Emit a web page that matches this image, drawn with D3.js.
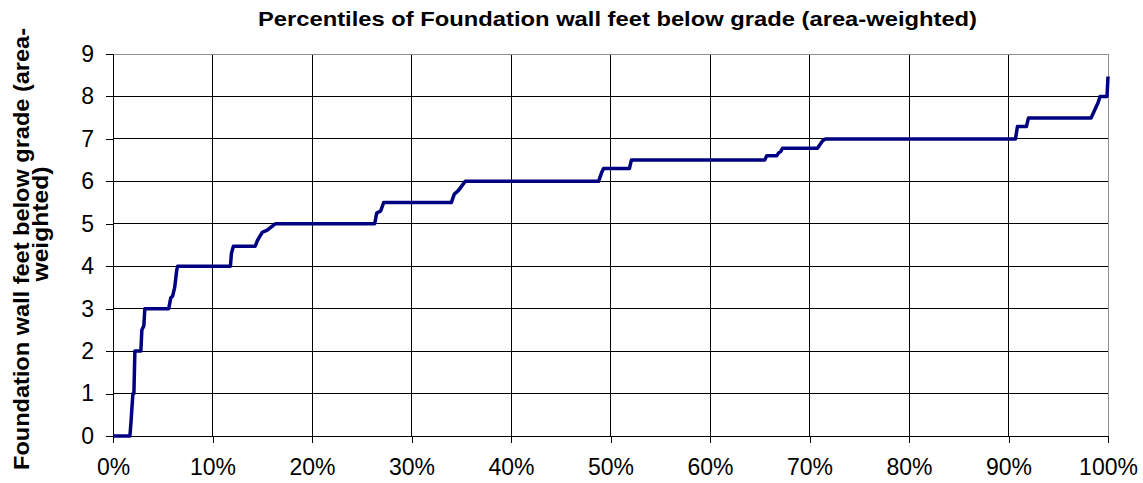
<!DOCTYPE html>
<html>
<head>
<meta charset="utf-8">
<title>Percentiles of Foundation wall feet below grade</title>
<script src="https://cdnjs.cloudflare.com/ajax/libs/d3/7.8.5/d3.min.js"></script>
<style>
  body { margin: 0; background: #fff; }
  text { font-family: "Liberation Sans", Arial, sans-serif; }
</style>
</head>
<body>
<svg id="chart" width="1143" height="483"></svg>
<script>
// percentile (%) and feet below grade
var pct = [0, 1.7, 1.8, 2.0, 2.1, 2.2, 2.8, 2.9, 3.1, 3.2, 5.6, 5.8, 6.0, 6.2, 6.4, 6.5,
  11.8, 11.9, 12.1, 14.3, 14.5, 15.0, 15.5, 16.3, 26.3, 26.5, 26.9, 27.2, 34.0, 34.3, 34.7, 35.4,
  48.8, 49.1, 49.3, 51.9, 52.1, 65.5, 65.7, 66.7, 66.9, 67.1, 67.3, 70.8, 71.0, 71.3, 71.6,
  90.7, 90.9, 91.8, 92.0, 98.3, 98.8, 99.0, 99.2, 99.3, 99.9, 100];
var feet = [0, 0, 0.3, 1, 1, 2, 2, 2.5, 2.6, 3, 3, 3.25, 3.3, 3.5, 3.9, 4,
  4, 4.3, 4.47, 4.47, 4.6, 4.8, 4.85, 5, 5, 5.25, 5.3, 5.5, 5.5, 5.7, 5.78, 6,
  6, 6.2, 6.3, 6.3, 6.5, 6.5, 6.6, 6.6, 6.67, 6.7, 6.78, 6.78, 6.85, 6.95, 7,
  7, 7.29, 7.29, 7.49, 7.49, 7.75, 7.85, 8, 8, 8, 8.47];
var xTicks = [0, 10, 20, 30, 40, 50, 60, 70, 80, 90, 100];
var yTicks = [0, 1, 2, 3, 4, 5, 6, 7, 8, 9];

var svg = d3.select("#chart");
var plot = { left: 113, right: 1108, top: 54, bottom: 436 };

var x = d3.scaleLinear().domain([0, 100]).range([plot.left, plot.right]);
var y = d3.scaleLinear().domain([0, 9]).range([plot.bottom, plot.top]);

// grid
svg.append("g").selectAll("line")
  .data(xTicks.slice(1, -1))
  .enter().append("line")
  .attr("x1", function(d) { return x(d); }).attr("x2", function(d) { return x(d); })
  .attr("y1", plot.top).attr("y2", plot.bottom)
  .attr("stroke", "#000").attr("stroke-width", 1).attr("shape-rendering", "crispEdges");

svg.append("g").selectAll("line")
  .data(yTicks.slice(1, -1))
  .enter().append("line")
  .attr("x1", plot.left).attr("x2", plot.right)
  .attr("y1", function(d) { return y(d); }).attr("y2", function(d) { return y(d); })
  .attr("stroke", "#000").attr("stroke-width", 1).attr("shape-rendering", "crispEdges");

// plot border (top/right gray)
svg.append("line").attr("x1", plot.left).attr("x2", plot.right).attr("y1", plot.top).attr("y2", plot.top)
  .attr("stroke", "#909090").attr("shape-rendering", "crispEdges");
svg.append("line").attr("x1", plot.right).attr("x2", plot.right).attr("y1", plot.top).attr("y2", plot.bottom)
  .attr("stroke", "#909090").attr("shape-rendering", "crispEdges");

// axes
var yAxis = d3.axisLeft(y).tickValues(yTicks).tickSize(7).tickPadding(12).tickFormat(d3.format("d"));
var gy = svg.append("g").attr("transform", "translate(" + plot.left + ",0)").call(yAxis);
var xAxis = d3.axisBottom(x).tickValues(xTicks).tickSize(7).tickPadding(17).tickFormat(function(d) { return d + "%"; });
var gx = svg.append("g").attr("transform", "translate(0," + plot.bottom + ")").call(xAxis);

[gx, gy].forEach(function(g) {
  g.select(".domain").attr("stroke", "#000").attr("shape-rendering", "crispEdges");
  g.selectAll(".tick line").attr("stroke", "#000").attr("shape-rendering", "crispEdges");
  g.selectAll("text").attr("font-size", 23).attr("fill", "#000")
    .style("font-family", "'Liberation Sans', Arial, sans-serif");
});
gx.selectAll("text").attr("y", 7 + 17 - 1);

// the line
var pts = pct.map(function(p, i) { return [p, feet[i]]; });
var line = d3.line()
  .x(function(d) { return x(d[0]); })
  .y(function(d) { return y(d[1]); });

svg.append("path")
  .datum(pts)
  .attr("d", line)
  .attr("fill", "none")
  .attr("stroke", "#000080")
  .attr("stroke-width", 3.5)
  .attr("stroke-linejoin", "round");

// title
svg.append("text")
  .attr("x", 258).attr("y", 26)
  .attr("font-size", 21).attr("font-weight", "bold")
  .attr("textLength", 719).attr("lengthAdjust", "spacingAndGlyphs")
  .text("Percentiles of Foundation wall feet below grade (area-weighted)");

// y axis title, wrapped into two lines
svg.append("text")
  .attr("transform", "translate(29,249) rotate(-90)")
  .attr("text-anchor", "middle")
  .attr("font-size", 22).attr("font-weight", "bold")
  .attr("textLength", 442).attr("lengthAdjust", "spacingAndGlyphs")
  .text("Foundation wall feet below grade (area-");
svg.append("text")
  .attr("transform", "translate(48,224) rotate(-90)")
  .attr("text-anchor", "middle")
  .attr("font-size", 22).attr("font-weight", "bold")
  .attr("textLength", 115).attr("lengthAdjust", "spacingAndGlyphs")
  .text("weighted)");
</script>
</body>
</html>
